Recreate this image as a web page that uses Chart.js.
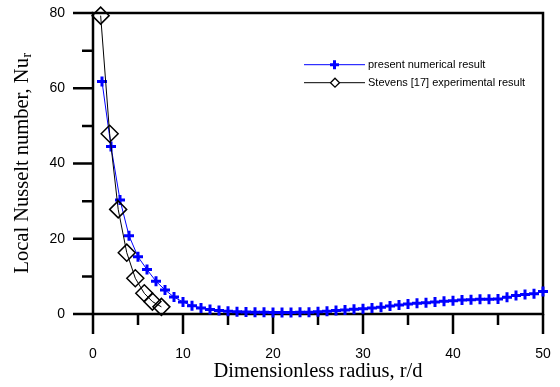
<!DOCTYPE html>
<html>
<head>
<meta charset="utf-8">
<script src="https://cdn.jsdelivr.net/npm/chart.js@4/dist/chart.umd.min.js"></script>
<style>
  html, body { margin: 0; padding: 0; background: #fff; }
  #wrap { width: 560px; height: 387px; }
</style>
</head>
<body>
<div id="wrap"><canvas id="chart" width="560" height="387"></canvas></div>
<script>
// radius positions, r/d
const radiusNum = [1, 2, 3, 4, 5, 6, 7, 8, 9, 10, 11, 12, 13, 14, 15, 16, 17, 18, 19, 20,
  21, 22, 23, 24, 25, 26, 27, 28, 29, 30, 31, 32, 33, 34, 35, 36, 37, 38, 39, 40,
  41, 42, 43, 44, 45, 46, 47, 48, 49, 50];
const nuNum = [61.8, 44.5, 30.3, 20.8, 15.2, 11.8, 8.7, 6.4, 4.5, 3.2, 2.2, 1.6, 1.2, 0.9, 0.7,
  0.6, 0.5, 0.45, 0.45, 0.4, 0.4, 0.4, 0.45, 0.45, 0.6, 0.7, 0.9, 1.05, 1.25, 1.4,
  1.6, 1.8, 2.1, 2.4, 2.65, 2.85, 3.0, 3.2, 3.4, 3.55, 3.7, 3.8, 3.9, 3.9, 4.0,
  4.45, 4.9, 5.15, 5.35, 5.95];

const radiusExp = [0.85, 1.85, 2.8, 3.75, 4.7, 5.7, 6.6, 7.6];
const nuExp = [79.3, 47.9, 27.8, 16.3, 9.5, 5.5, 3.3, 1.9];

const xTicks = [0, 10, 20, 30, 40, 50];
const yTicks = [0, 20, 40, 60, 80];
const legendLabels = ['present numerical result', 'Stevens [17] experimental result'];

const SANS = '"Liberation Sans", Arial, sans-serif';
const SERIF = '"Liberation Serif", "Times New Roman", serif';

const pts = (xs, ys) => xs.map((x, i) => ({ x, y: ys[i] }));

// no extra room for overhanging tick labels, the layout padding decides
const noPad = s => {
  s.paddingLeft = s.paddingRight = s.paddingTop = s.paddingBottom = 0;
};

// frame, minor/major ticks, axis titles and the boxed legend
const decor = {
  id: 'decor',
  beforeDatasetsDraw(chart) {
    const { ctx, chartArea: a, scales: { x, y } } = chart;
    ctx.save();
    ctx.strokeStyle = '#000';
    ctx.lineWidth = 2.5;
    ctx.strokeRect(a.left, a.top, a.right - a.left, a.bottom - a.top);
    ctx.beginPath();
    for (let v = 0; v <= 50; v += 5) {
      const px = x.getPixelForValue(v);
      ctx.moveTo(px, a.bottom);
      ctx.lineTo(px, a.bottom + (v % 10 === 0 ? 20 : 11));
    }
    for (let v = 0; v <= 80; v += 10) {
      const py = y.getPixelForValue(v);
      ctx.moveTo(a.left, py);
      ctx.lineTo(a.left - (v % 20 === 0 ? 20 : 11), py);
    }
    ctx.stroke();
    ctx.restore();
  },
  afterDraw(chart) {
    const { ctx, chartArea: a } = chart;
    ctx.save();
    ctx.fillStyle = '#000';

    // x title
    ctx.font = '20.5px ' + SERIF;
    ctx.textAlign = 'center';
    ctx.textBaseline = 'alphabetic';
    ctx.fillText('Dimensionless radius, r/d', (a.left + a.right) / 2, 377);

    // y title with subscript
    const main = 'Local Nusselt number, Nu';
    ctx.translate(28, (a.top + a.bottom) / 2);
    ctx.rotate(-Math.PI / 2);
    ctx.font = '20.5px ' + SERIF;
    const w1 = ctx.measureText(main).width;
    ctx.font = '14px ' + SERIF;
    const w2 = ctx.measureText('r').width;
    const start = -(w1 + w2) / 2;
    ctx.textAlign = 'left';
    ctx.font = '20.5px ' + SERIF;
    ctx.fillText(main, start, 0);
    ctx.font = '14px ' + SERIF;
    ctx.fillText('r', start + w1 + 0.5, 3);
    ctx.setTransform(1, 0, 0, 1, 0, 0);

    // legend
    const rows = [
      { y: 64.7, color: '#0000ff', style: 'cross' },
      { y: 82.7, color: '#000', style: 'diamond' }
    ];
    ctx.font = '11px ' + SANS;
    ctx.textBaseline = 'middle';
    rows.forEach((r, i) => {
      ctx.strokeStyle = r.color;
      ctx.lineWidth = 1;
      ctx.beginPath();
      ctx.moveTo(304, r.y);
      ctx.lineTo(365, r.y);
      ctx.stroke();
      if (r.style === 'cross') {
        ctx.lineWidth = 3;
        ctx.beginPath();
        ctx.moveTo(330, r.y); ctx.lineTo(339, r.y);
        ctx.moveTo(334.5, r.y - 4.5); ctx.lineTo(334.5, r.y + 4.5);
        ctx.stroke();
      } else {
        ctx.lineWidth = 1.3;
        ctx.fillStyle = '#fff';
        ctx.beginPath();
        ctx.moveTo(335, r.y - 4.5); ctx.lineTo(339.5, r.y);
        ctx.lineTo(335, r.y + 4.5); ctx.lineTo(330.5, r.y);
        ctx.closePath();
        ctx.fill();
        ctx.stroke();
      }
      ctx.fillStyle = '#000';
      ctx.fillText(legendLabels[i], 368, r.y);
    });
    ctx.restore();
  }
};

new Chart(document.getElementById('chart'), {
  type: 'scatter',
  data: {
    datasets: [
      {
        label: legendLabels[1],
        data: pts(radiusExp, nuExp),
        showLine: true,
        borderColor: '#000',
        borderWidth: 1,
        pointStyle: 'rectRot',
        pointRadius: 8.5,
        pointBorderWidth: 1.5,
        pointBorderColor: '#000',
        pointBackgroundColor: 'rgba(0,0,0,0)',
        clip: false,
        order: 0
      },
      {
        label: legendLabels[0],
        data: pts(radiusNum, nuNum),
        showLine: true,
        borderColor: '#0000ff',
        borderWidth: 1,
        pointStyle: 'cross',
        pointRadius: 5,
        pointBorderWidth: 3,
        pointBorderColor: '#0000ff',
        clip: false,
        order: 1
      }
    ]
  },
  options: {
    responsive: false,
    animation: false,
    devicePixelRatio: 1,
    layout: { padding: { left: 0, right: 17, top: 13, bottom: 0 } },
    plugins: { legend: { display: false }, tooltip: { enabled: false } },
    scales: {
      x: {
        type: 'linear',
        min: 0, max: 50,
        afterFit: s => { s.height = 73; noPad(s); },
        afterBuildTicks: s => { s.ticks = xTicks.map(v => ({ value: v })); },
        grid: { display: false, drawTicks: false },
        border: { display: false },
        ticks: { color: '#000', padding: 31.5, maxRotation: 0, font: { family: SANS, size: 14 } }
      },
      y: {
        min: 0, max: 80,
        afterFit: s => { s.width = 93; noPad(s); },
        afterBuildTicks: s => { s.ticks = yTicks.map(v => ({ value: v })); },
        grid: { display: false, drawTicks: false },
        border: { display: false },
        ticks: { color: '#000', padding: 28, font: { family: SANS, size: 14 } }
      }
    }
  },
  plugins: [decor]
});
</script>
</body>
</html>
